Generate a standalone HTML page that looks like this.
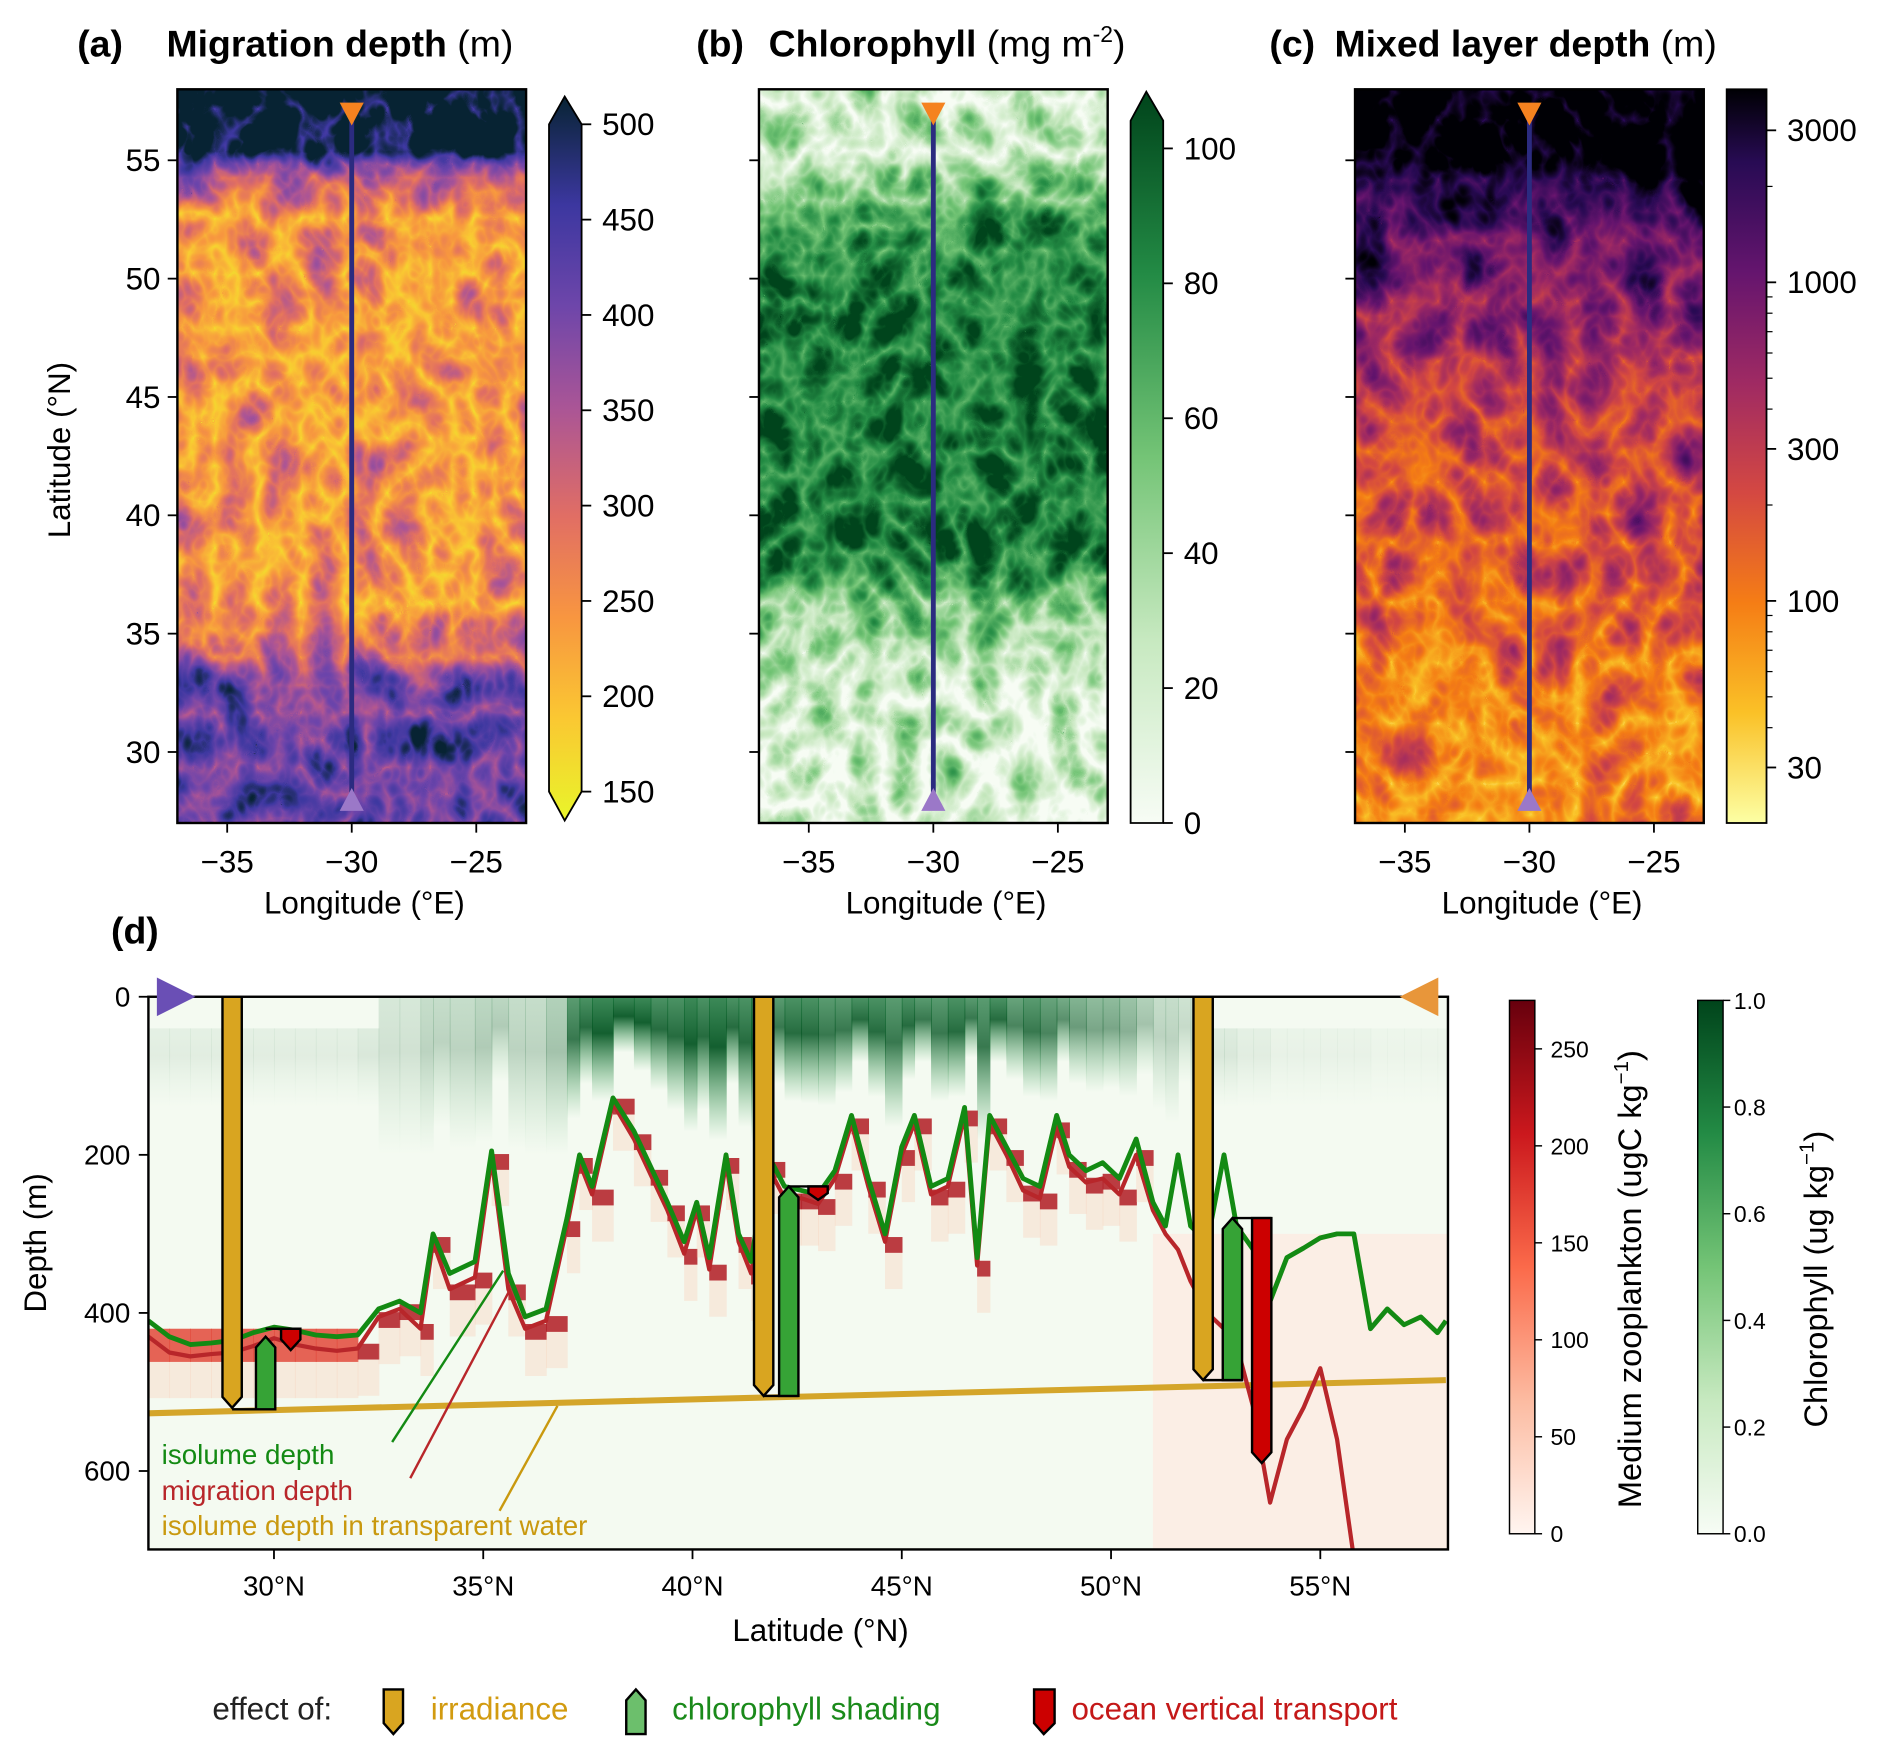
<!DOCTYPE html>
<html><head><meta charset="utf-8"><style>
html,body{margin:0;padding:0;background:#fff}
svg{display:block}
text{font-family:"Liberation Sans","DejaVu Sans",sans-serif}
</style></head><body>
<svg id="fig" xmlns="http://www.w3.org/2000/svg" width="1892" height="1757" viewBox="0 0 1568 1456" preserveAspectRatio="none">
<defs>
<linearGradient id="meanA" x1="0" y1="0" x2="0" y2="1">
<stop offset="0" stop-color="rgb(255,255,255)"/><stop offset=".085" stop-color="rgb(245,245,245)"/><stop offset=".12" stop-color="rgb(120,120,120)"/><stop offset=".17" stop-color="rgb(62,62,62)"/><stop offset=".71" stop-color="rgb(60,60,60)"/><stop offset=".77" stop-color="rgb(110,110,110)"/><stop offset=".82" stop-color="rgb(170,170,170)"/><stop offset="1" stop-color="rgb(185,185,185)"/></linearGradient>
<linearGradient id="meanB" x1="0" y1="0" x2="0" y2="1">
<stop offset="0" stop-color="rgb(15,15,15)"/><stop offset=".1" stop-color="rgb(30,30,30)"/><stop offset=".18" stop-color="rgb(150,150,150)"/><stop offset=".3" stop-color="rgb(185,185,185)"/><stop offset=".63" stop-color="rgb(180,180,180)"/><stop offset=".71" stop-color="rgb(80,80,80)"/><stop offset=".83" stop-color="rgb(10,10,10)"/><stop offset="1" stop-color="rgb(0,0,0)"/></linearGradient>
<linearGradient id="meanC" x1="0" y1="0" x2="0" y2="1">
<stop offset="0" stop-color="rgb(255,255,255)"/><stop offset=".1" stop-color="rgb(250,250,250)"/><stop offset=".14" stop-color="rgb(215,215,215)"/><stop offset=".2" stop-color="rgb(175,175,175)"/><stop offset=".35" stop-color="rgb(130,130,130)"/><stop offset=".5" stop-color="rgb(100,100,100)"/><stop offset=".65" stop-color="rgb(85,85,85)"/><stop offset=".8" stop-color="rgb(65,65,65)"/><stop offset="1" stop-color="rgb(58,58,58)"/></linearGradient>
<filter id="fa" x="0" y="0" width="1" height="1" color-interpolation-filters="sRGB">
<feTurbulence type="turbulence" baseFrequency="0.028 0.022" numOctaves="3" seed="3" result="t"/>
<feColorMatrix in="t" type="matrix" values="1 0 0 0 0 1 0 0 0 0 1 0 0 0 0 0 0 0 0 1" result="n"/>
<feComposite in="SourceGraphic" in2="n" operator="arithmetic" k1="0" k2="1" k3="0.7" k4="-0.15" result="v"/>
<feComponentTransfer in="v">
<feFuncR type="table" tableValues=".91 .98 .97 .88 .67 .43 .24 .03"/>
<feFuncG type="table" tableValues=".96 .78 .59 .43 .33 .27 .22 .14"/>
<feFuncB type="table" tableValues=".16 .2 .25 .39 .59 .67 .63 .2"/>
<feFuncA type="linear" slope="0" intercept="1"/></feComponentTransfer></filter>
<filter id="fb" x="0" y="0" width="1" height="1" color-interpolation-filters="sRGB">
<feTurbulence type="turbulence" baseFrequency="0.03 0.024" numOctaves="3" seed="11" result="t"/>
<feColorMatrix in="t" type="matrix" values="1 0 0 0 0 1 0 0 0 0 1 0 0 0 0 0 0 0 0 1" result="n"/>
<feComposite in="SourceGraphic" in2="n" operator="arithmetic" k1="0" k2="1" k3="0.9" k4="-0.15" result="v"/>
<feComponentTransfer in="v">
<feFuncR type="table" tableValues=".97 .78 .45 .14 0"/>
<feFuncG type="table" tableValues=".99 .91 .77 .55 .27"/>
<feFuncB type="table" tableValues=".96 .75 .46 .27 .11"/>
<feFuncA type="linear" slope="0" intercept="1"/></feComponentTransfer></filter>
<filter id="fc" x="0" y="0" width="1" height="1" color-interpolation-filters="sRGB">
<feTurbulence type="turbulence" baseFrequency="0.026 0.02" numOctaves="3" seed="7" result="t"/>
<feColorMatrix in="t" type="matrix" values="1 0 0 0 0 1 0 0 0 0 1 0 0 0 0 0 0 0 0 1" result="n"/>
<feComposite in="SourceGraphic" in2="n" operator="arithmetic" k1="0" k2="1" k3="0.6" k4="-0.13" result="v"/>
<feComponentTransfer in="v">
<feFuncR type="table" tableValues=".99 .98 .96 .83 .62 .40 .16 0"/>
<feFuncG type="table" tableValues="1 .76 .49 .28 .16 .08 .04 0"/>
<feFuncB type="table" tableValues=".64 .15 .08 .26 .39 .43 .33 .02"/>
<feFuncA type="linear" slope="0" intercept="1"/></feComponentTransfer></filter>
<linearGradient id="cbA" x1="0" y1="1" x2="0" y2="0">
<stop offset="0" stop-color="rgb(233,245,42)"/><stop offset=".14" stop-color="rgb(250,200,50)"/><stop offset=".28" stop-color="rgb(248,150,64)"/><stop offset=".42" stop-color="rgb(225,110,100)"/><stop offset=".57" stop-color="rgb(170,85,150)"/><stop offset=".71" stop-color="rgb(110,70,170)"/><stop offset=".85" stop-color="rgb(60,55,160)"/><stop offset="1" stop-color="rgb(8,36,52)"/></linearGradient>
<linearGradient id="cbB" x1="0" y1="1" x2="0" y2="0">
<stop offset="0" stop-color="#f7fcf5"/><stop offset=".25" stop-color="#c7e9c0"/><stop offset=".5" stop-color="#74c476"/><stop offset=".75" stop-color="#238b45"/><stop offset="1" stop-color="#00441b"/></linearGradient>
<linearGradient id="cbC" x1="0" y1="1" x2="0" y2="0">
<stop offset="0" stop-color="rgb(252,255,164)"/><stop offset=".15" stop-color="rgb(250,193,39)"/><stop offset=".3" stop-color="rgb(245,125,21)"/><stop offset=".45" stop-color="rgb(212,72,66)"/><stop offset=".6" stop-color="rgb(159,42,99)"/><stop offset=".75" stop-color="rgb(101,21,110)"/><stop offset=".9" stop-color="rgb(40,11,84)"/><stop offset="1" stop-color="rgb(0,0,4)"/></linearGradient>
<linearGradient id="cbZ" x1="0" y1="1" x2="0" y2="0">
<stop offset="0" stop-color="#fff5f0"/><stop offset=".25" stop-color="#fcbba1"/><stop offset=".5" stop-color="#fb6a4a"/><stop offset=".75" stop-color="#cb181d"/><stop offset="1" stop-color="#67000d"/></linearGradient>
<linearGradient id="chlfade" x1="0" y1="0" x2="0" y2="1">
<stop offset="0" stop-color="#0a6b2e" stop-opacity=".85"/><stop offset=".35" stop-color="#00521f" stop-opacity="1"/><stop offset="1" stop-color="#41ab5d" stop-opacity="0"/></linearGradient>
<clipPath id="clipD"><rect x="123" y="826" width="1077" height="458"/></clipPath>
</defs>

<text x="64" y="47" font-size="31" font-weight="bold">(a)</text>
<text x="138" y="47" font-size="31" font-weight="bold">Migration depth <tspan font-weight="normal">(m)</tspan></text>
<text x="577" y="47" font-size="31" font-weight="bold">(b)</text>
<text x="637" y="47" font-size="31" font-weight="bold">Chlorophyll <tspan font-weight="normal">(mg m<tspan font-size="19" dy="-12">-2</tspan><tspan dy="12">)</tspan></tspan></text>
<text x="1052" y="47" font-size="31" font-weight="bold">(c)</text>
<text x="1106" y="47" font-size="31" font-weight="bold">Mixed layer depth <tspan font-weight="normal">(m)</tspan></text>
<text x="92" y="782" font-size="31" font-weight="bold">(d)</text>

<g><rect x="147" y="74" width="289" height="608" fill="url(#meanA)" filter="url(#fa)"/><rect x="147" y="74" width="289" height="608" fill="none" stroke="#000" stroke-width="2"/></g>
<g><rect x="629" y="74" width="289" height="608" fill="url(#meanB)" filter="url(#fb)"/><rect x="629" y="74" width="289" height="608" fill="none" stroke="#000" stroke-width="2"/></g>
<g><rect x="1123" y="74" width="289" height="608" fill="url(#meanC)" filter="url(#fc)"/><rect x="1123" y="74" width="289" height="608" fill="none" stroke="#000" stroke-width="2"/></g>

<g><path d="M455,103 L468,80 L482,103 L482,656 L468,680 L455,656 Z" fill="url(#cbA)" stroke="#000" stroke-width="1.5"/></g>
<g><path d="M937,682 L937,100 L950,76 L964,100 L964,682 Z" fill="url(#cbB)" stroke="#000" stroke-width="1.5"/></g>
<g><rect x="1431" y="74" width="33" height="608" fill="url(#cbC)" stroke="#000" stroke-width="1.5"/></g>
<g id="maptext"></g>

<rect x="123" y="826" width="1077" height="458" fill="#f4faf1"/>
<g id="sect" clip-path="url(#clipD)"></g>
<rect x="123" y="826" width="1077" height="458" fill="none" stroke="#000" stroke-width="2"/>
<path d="M130,810 L162,826 L130,842 Z" fill="#6a4fb5"/>
<path d="M1192,810 L1160,826 L1192,842 Z" fill="#e8963a"/>
<g id="dtext"></g>
<rect x="1251" y="829" width="21" height="442" fill="url(#cbZ)" stroke="#000" stroke-width="1.2"/>
<rect x="1407" y="829" width="21" height="442" fill="url(#cbB)" stroke="#000" stroke-width="1.2"/>
<text transform="translate(1360,1060) rotate(-90)" text-anchor="middle" font-size="27">Medium zooplankton (ugC kg<tspan font-size="17" dy="-11">−1</tspan><tspan dy="11">)</tspan></text>
<text transform="translate(1514,1060) rotate(-90)" text-anchor="middle" font-size="27">Chlorophyll (ug kg<tspan font-size="17" dy="-11">−1</tspan><tspan dy="11">)</tspan></text>

<g>
<text x="176" y="1425" font-size="26" fill="#222">effect of:</text>
<path d="M318,1400 L334,1400 L334,1428 L326,1437 L318,1428 Z" fill="#d9a520" stroke="#000" stroke-width="2"/>
<text x="357" y="1425" font-size="26" fill="#d29b10">irradiance</text>
<path d="M519,1409 L527,1400 L535,1409 L535,1437 L519,1437 Z" fill="#6cbf6c" stroke="#000" stroke-width="2"/>
<text x="557" y="1425" font-size="26" fill="#1a8a1a">chlorophyll shading</text>
<path d="M857,1400 L874,1400 L874,1428 L865,1437 L857,1428 Z" fill="#cc0000" stroke="#000" stroke-width="2"/>
<text x="888" y="1425" font-size="26" fill="#c41818">ocean vertical transport</text>
</g>

<script>
const latTicks = [30, 35, 40, 45, 50, 55];
const lonTicks = [-35, -30, -25];
const cbATicks = [150, 200, 250, 300, 350, 400, 450, 500];
const cbBTicks = [0, 20, 40, 60, 80, 100];
const cbCTicks = [30, 100, 300, 1000, 3000];
const cbCMinor = [20, 40, 50, 60, 70, 80, 90, 200, 400, 500, 600, 700, 800, 900, 2000];

const lats = [27,27.5,28,28.5,29,29.5,30,30.5,31,31.5,32,32.5,33,33.5,33.8,34.2,34.8,35.2,35.6,36,36.5,37,37.3,37.6,38.1,38.6,39.0,39.4,39.8,40.1,40.4,40.8,41.1,41.4,41.8,42.2,42.6,43.0,43.4,43.8,44.2,44.6,45.0,45.3,45.7,46.1,46.5,46.8,47.1,47.5,47.9,48.3,48.7,49.0,49.4,49.8,50.2,50.6,51.0,51.3,51.6,51.9,52.3,52.7,53.0,53.4,53.8,54.2,54.6,55.0,55.4,55.8,56.2,56.6,57.0,57.4,57.8,58];
const isoDepth = [410,430,440,438,435,425,418,422,428,430,428,395,385,400,300,350,335,195,350,405,395,280,200,240,128,170,215,260,310,260,330,200,300,335,200,240,245,250,220,150,230,300,190,150,240,230,140,330,150,190,230,240,150,200,220,210,230,180,260,290,200,290,310,200,290,320,385,330,318,305,300,300,420,395,415,405,425,410];
const migDepth = [430,450,455,452,450,442,432,440,445,448,445,405,395,420,310,370,355,205,370,420,410,290,210,250,135,180,225,270,325,270,345,210,310,350,215,255,255,262,230,160,240,310,200,160,250,240,150,340,160,200,245,255,165,215,235,230,250,200,270,300,320,360,400,420,440,520,640,560,520,470,560,710,null,null,null,null,null,null];
const chlSurf = [0.2,0.2,0.2,0.2,0.2,0.2,0.2,0.2,0.2,0.2,0.25,0.3,0.3,0.4,0.4,0.4,0.45,0.45,0.4,0.4,0.5,0.85,0.9,0.95,0.95,0.95,0.9,0.9,0.95,0.9,0.95,0.9,0.9,0.95,0.85,0.9,0.9,0.85,0.85,0.9,0.9,0.85,0.9,0.85,0.85,0.9,0.85,0.85,0.9,0.8,0.85,0.8,0.75,0.7,0.65,0.65,0.6,0.5,0.4,0.4,0.35,0.35,0.25,0.25,0.2,0.2,0.15,0.15,0.15,0.15,0.15,0.15,0.12,0.12,0.12,0.12,0.12,0.12];
const transparentLat = [27, 58];
const transparentDepth = [527, 485];
const depthTicks = [0, 200, 400, 600];
const sectLatTicks = [30, 35, 40, 45, 50, 55];
const zooTicks = [0, 50, 100, 150, 200, 250];
const chlTicks = [0.0, 0.2, 0.4, 0.6, 0.8, 1.0];
const irrBars = [[29.0, 0, 520], [41.7, 0, 505], [52.2, 0, 485]];
const shadeBars = [[29.8, 430, 522], [42.3, 240, 505], [52.9, 280, 485]];
const transBars = [[30.4, 420, 447], [43.0, 240, 257], [53.6, 280, 590]];

const NS = "http://www.w3.org/2000/svg";
function mk(tag, attrs, parent) {
  const e = document.createElementNS(NS, tag);
  for (const k in attrs) e.setAttribute(k, attrs[k]);
  parent.appendChild(e);
  return e;
}
const mapLatY = v => 74 + (58 - v) * 608 / 31;
const maps = [147, 629, 1123];
const mapLonX = (x0, v) => x0 + (v + 37) * 289 / 14;
const mt = document.getElementById('maptext');
maps.forEach((x0, i) => {
  latTicks.forEach(v => {
    const y = mapLatY(v);
    const tk = mk('line', {x1: x0 - 8, x2: x0, y1: y, y2: y, stroke: '#000', 'stroke-width': 1.5}, mt);
    
    
    if (i === 0) {
      const t = mk('text', {x: x0 - 14, y: y + 9, 'text-anchor': 'end', 'font-size': 26}, mt);
      t.textContent = v;
      
      
    }
  });
  lonTicks.forEach(v => {
    const x = mapLonX(x0, v);
    const tk = mk('line', {x1: x, x2: x, y1: 682, y2: 690, stroke: '#000', 'stroke-width': 1.5}, mt);
    
    
    const t = mk('text', {x: x, y: 723, 'text-anchor': 'middle', 'font-size': 26}, mt);
    t.textContent = '\u2212' + Math.abs(v);
    
    
  });
  const xl = mk('text', {x: x0 + 155, y: 757, 'text-anchor': 'middle', 'font-size': 26}, mt);
  xl.textContent = 'Longitude (°E)';
  
  
  const lx = mapLonX(x0, -30);
  const ln = mk('line', {x1: lx, x2: lx, y1: 95, y2: 664, stroke: '#2b2b80', 'stroke-width': 4}, mt);
  
  
  const tn = mk('path', {d: `M${lx-10},85 L${lx+10},85 L${lx},104 Z`, fill: '#f5821f'}, mt);
  
  
  const ts = mk('path', {d: `M${lx-10},672 L${lx+10},672 L${lx},653 Z`, fill: '#9b78c8'}, mt);
  
  
});
const yl = mk('text', {transform: 'translate(58,373) rotate(-90)', 'text-anchor': 'middle', 'font-size': 26}, mt);
yl.textContent = 'Latitude (°N)';


function cbTicks(ticks, yf, x, fmt) {
  ticks.forEach(v => {
    const y = yf(v);
    const tk = mk('line', {x1: x, x2: x + 8, y1: y, y2: y, stroke: '#000', 'stroke-width': 1.5}, mt);
    
    
    const t = mk('text', {x: x + 17, y: y + 9, 'font-size': 26}, mt);
    t.textContent = fmt(v);
    
    
  });
}
cbTicks(cbATicks, v => 656 - (v - 150) * 553 / 350, 482, v => v);
cbTicks(cbBTicks, v => 682 - v * 559 / 100, 964, v => v);
const logY = v => 636 - (Math.log10(v) - Math.log10(30)) * (636 - 108) / 2;
cbTicks(cbCTicks, logY, 1464, v => v);
cbCMinor.forEach(v => {
  const y = logY(v);
  if (y < 74 || y > 682) return;
  const tk = mk('line', {x1: 1464, x2: 1469, y1: y, y2: y, stroke: '#000', 'stroke-width': 1}, mt);
  
  
});

const xS = v => 123 + (v - 27) * 1077 / 31.05;
const yS = d => 826 + d * 0.655;
const sg = document.getElementById('sect');
for (let i = 0; i < lats.length - 1; i++) {
  const x0 = xS(lats[i]), x1 = xS(lats[i + 1]);
  const c0 = chlSurf[i];
  const low = c0 < 0.3;
  const top = low ? 40 : 0;
  const dep = low ? 140 : Math.min(isoDepth[i] * 0.55, 200);
  const c = mk('rect', {x: x0, y: yS(top), width: x1 - x0 + 0.6, height: yS(dep) - yS(top), fill: 'url(#chlfade)', opacity: Math.pow(c0, 1.6)}, sg);
  
  
}
const wash = mk('rect', {x: xS(51), y: yS(300), width: xS(58.1) - xS(51), height: yS(700) - yS(300), fill: '#fdebe2', opacity: 0.8}, sg);


for (let i = 0; i < lats.length - 1; i++) {
  if (migDepth[i] === null) continue;
  const x0 = xS(lats[i]), x1 = xS(lats[i + 1]);
  const d = migDepth[i];
  const south = lats[i] < 32;
  if (lats[i] > 50.6) continue;
  const b = mk('rect', {x: x0, y: yS(south ? 420 : d - 6), width: x1 - x0 + 0.6, height: south ? yS(462) - yS(420) : yS(d + 14) - yS(d - 6), fill: south ? '#e2483a' : '#b01a22', opacity: 0.85}, sg);
  
  
  const p = mk('rect', {x: x0, y: yS(south ? 462 : d + 14), width: x1 - x0 + 0.6, height: 30, fill: '#fcbba1', opacity: 0.25}, sg);
  
  
}
const tl = mk('line', {x1: xS(transparentLat[0]), y1: yS(transparentDepth[0]), x2: xS(transparentLat[1]), y2: yS(transparentDepth[1]), stroke: '#d4a52a', 'stroke-width': 5}, sg);


let mp = '';
lats.forEach((v, i) => { if (migDepth[i] !== null) mp += (mp ? 'L' : 'M') + xS(v).toFixed(1) + ',' + yS(migDepth[i]).toFixed(1); });
const ml = mk('path', {d: mp, fill: 'none', stroke: '#b8262a', 'stroke-width': 3.5, 'stroke-linejoin': 'round'}, sg);


let ip = '';
lats.forEach((v, i) => { ip += (i ? 'L' : 'M') + xS(v).toFixed(1) + ',' + yS(isoDepth[i]).toFixed(1); });
const il = mk('path', {d: ip, fill: 'none', stroke: '#138a13', 'stroke-width': 4, 'stroke-linejoin': 'round'}, sg);


const bw = 16;
irrBars.forEach(b => {
  const x = xS(b[0]), t = yS(b[1]), bt = yS(b[2]);
  const p = mk('path', {d: `M${x-bw/2},${t} L${x+bw/2},${t} L${x+bw/2},${bt-9} L${x},${bt} L${x-bw/2},${bt-9} Z`, fill: '#d9a520', stroke: '#000', 'stroke-width': 2}, sg);
  
  
});
shadeBars.forEach((b, k) => {
  const x = xS(b[0]), t = yS(b[1]), bt = yS(b[2]);
  const g = mk('path', {d: `M${xS(irrBars[k][0])},${bt} L${x+bw/2},${bt}`, stroke: '#000', 'stroke-width': 2, fill: 'none'}, sg);
  
  
  const p = mk('path', {d: `M${x-bw/2},${t+9} L${x},${t} L${x+bw/2},${t+9} L${x+bw/2},${bt} L${x-bw/2},${bt} Z`, fill: '#36a336', stroke: '#000', 'stroke-width': 2}, sg);
  
  
});
transBars.forEach((b, k) => {
  const x = xS(b[0]), t = yS(b[1]), bt = yS(b[2]);
  const g = mk('path', {d: `M${xS(shadeBars[k][0])},${t} L${x+bw/2},${t}`, stroke: '#000', 'stroke-width': 2, fill: 'none'}, sg);
  
  
  const tip = Math.min(9, (bt - t) / 2);
  const p = mk('path', {d: `M${x-bw/2},${t} L${x+bw/2},${t} L${x+bw/2},${bt-tip} L${x},${bt} L${x-bw/2},${bt-tip} Z`, fill: '#cc0000', stroke: '#000', 'stroke-width': 2}, sg);
  
  
});
const ann = [['isolume depth', '#138a13', 1213, 325, 1195, 417, 1053], ['migration depth', '#b8262a', 1243, 340, 1225, 423, 1068], ['isolume depth in transparent water', '#c9990f', 1272, 414, 1252, 462, 1165]];
ann.forEach(a => {
  const t = mk('text', {x: 134, y: a[2], 'font-size': 23, fill: a[1]}, sg);
  t.textContent = a[0];
  
  
  const l = mk('line', {x1: a[3], y1: a[4], x2: a[5], y2: a[6], stroke: a[1], 'stroke-width': 2}, sg);
  
  
});
const dt = document.getElementById('dtext');
depthTicks.forEach(v => {
  const y = yS(v);
  const tk = mk('line', {x1: 115, x2: 123, y1: y, y2: y, stroke: '#000', 'stroke-width': 1.5}, dt);
  
  
  const t = mk('text', {x: 108, y: y + 8, 'text-anchor': 'end', 'font-size': 23}, dt);
  t.textContent = v;
  
  
});
sectLatTicks.forEach(v => {
  const x = xS(v);
  const tk = mk('line', {x1: x, x2: x, y1: 1284, y2: 1292, stroke: '#000', 'stroke-width': 1.5}, dt);
  
  
  const t = mk('text', {x: x, y: 1322, 'text-anchor': 'middle', 'font-size': 23}, dt);
  t.textContent = v + '°N';
  
  
});
const dxl = mk('text', {x: 680, y: 1360, 'text-anchor': 'middle', 'font-size': 26}, dt);
dxl.textContent = 'Latitude (°N)';


const dyl = mk('text', {transform: 'translate(38,1030) rotate(-90)', 'text-anchor': 'middle', 'font-size': 26}, dt);
dyl.textContent = 'Depth (m)';


zooTicks.forEach(v => {
  const y = 1271 - v * 442 / 275;
  const tk = mk('line', {x1: 1272, x2: 1278, y1: y, y2: y, stroke: '#000', 'stroke-width': 1.2}, dt);
  
  
  const t = mk('text', {x: 1285, y: y + 7, 'font-size': 19}, dt);
  t.textContent = v;
  
  
});
chlTicks.forEach(v => {
  const y = 1271 - v * 442;
  const tk = mk('line', {x1: 1428, x2: 1434, y1: y, y2: y, stroke: '#000', 'stroke-width': 1.2}, dt);
  
  
  const t = mk('text', {x: 1437, y: y + 7, 'font-size': 19}, dt);
  t.textContent = v.toFixed(1);
  
  
});
</script>
</svg>
</body></html>
